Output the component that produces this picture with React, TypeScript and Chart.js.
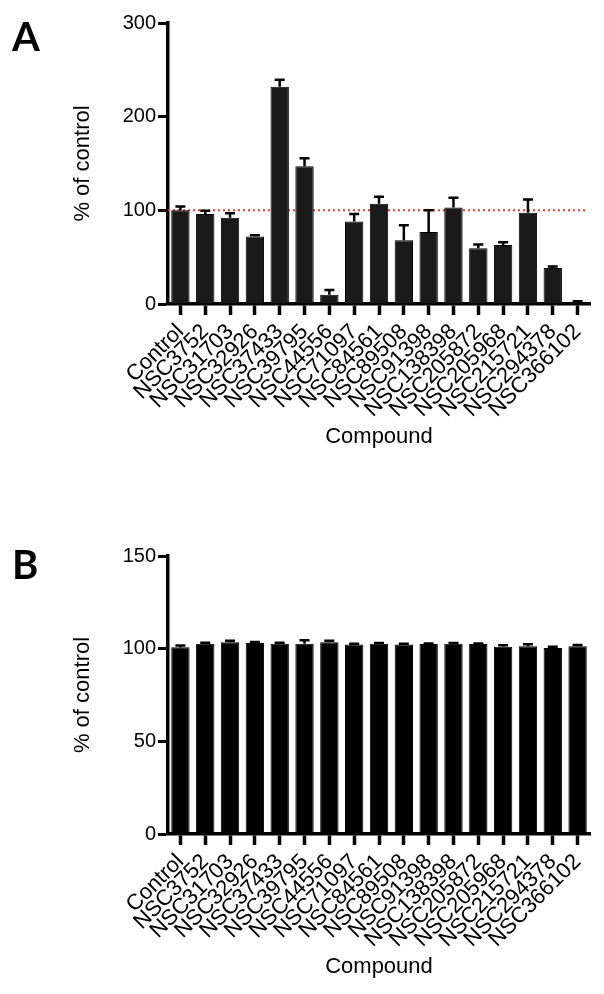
import React, { useEffect, useRef } from "react";
import { Chart, registerables } from "chart.js";

Chart.register(...registerables);

const categories = [
  "Control", "NSC3752", "NSC31703", "NSC32926", "NSC37433", "NSC39795",
  "NSC44556", "NSC71097", "NSC84561", "NSC89508", "NSC91398", "NSC138398",
  "NSC205872", "NSC205968", "NSC215721", "NSC294378", "NSC366102",
];

const valuesA = [100, 96, 92, 72, 232, 147, 10, 88, 107, 68, 77, 103, 59.5, 63, 97.5, 38.5, 2.5];
const errorsA = [4, 3.5, 5, 1.5, 7.5, 8.5, 5, 8, 7.5, 16, 23, 10.5, 4, 3, 14, 1.5, 0.5];

const valuesB = [100.8, 102.7, 103.4, 103.1, 102.7, 102.7, 103.4, 102.3, 102.7, 102.3, 102.5, 102.7, 102.5, 101.1, 101.3, 100.4, 101.3];
const errorsB = [0.9, 0.5, 0.9, 0.5, 0.5, 1.8, 0.9, 0.3, 0.3, 0.3, 0.3, 0.3, 0.3, 0.7, 1.1, 0.7, 0.7];

const yTicksA = [0, 100, 200, 300];
const yTicksB = [0, 50, 100, 150];
const refLineA = 100;

const FONT = "'Liberation Sans', Arial, Helvetica, sans-serif";

const errorBarPlugin = {
  id: "errorBars",
  afterDatasetsDraw(chart: any, _args: any, opts: any) {
    const errs: number[] = opts.errors || [];
    const meta = chart.getDatasetMeta(0);
    const ys = chart.scales.y;
    const data = chart.data.datasets[0].data as number[];
    const ctx = chart.ctx;
    ctx.save();
    ctx.strokeStyle = "#000";
    ctx.lineWidth = opts.lineWidth || 2.5;
    meta.data.forEach((bar: any, i: number) => {
      const top = ys.getPixelForValue(data[i] + errs[i]);
      const cap = opts.cap || 5;
      ctx.beginPath();
      ctx.moveTo(bar.x, bar.y);
      ctx.lineTo(bar.x, top);
      ctx.moveTo(bar.x - cap, top);
      ctx.lineTo(bar.x + cap, top);
      ctx.stroke();
    });
    ctx.restore();
  },
};

const refLinePlugin = {
  id: "refLine",
  beforeDatasetsDraw(chart: any, _args: any, opts: any) {
    if (opts.value == null) return;
    const ys = chart.scales.y;
    const { left, right } = chart.chartArea;
    const y = ys.getPixelForValue(opts.value);
    const ctx = chart.ctx;
    ctx.save();
    ctx.strokeStyle = "#e8392a";
    ctx.lineWidth = 2;
    ctx.setLineDash([2, 3]);
    ctx.beginPath();
    ctx.moveTo(left, y);
    ctx.lineTo(right - 2, y);
    ctx.stroke();
    ctx.restore();
  },
};

type PanelProps = {
  values: number[];
  errors: number[];
  yTicks: number[];
  fill: string;
  refValue: number | null;
  padTop: number;
  padBottom: number;
  xTitlePad: number;
};

function Panel({ values, errors, yTicks, fill, refValue, padTop, padBottom, xTitlePad }: PanelProps) {
  const ref = useRef<HTMLCanvasElement | null>(null);
  useEffect(() => {
    if (!ref.current) return;
    const chart = new Chart(ref.current, {
      type: "bar",
      data: {
        labels: categories,
        datasets: [
          {
            data: values,
            backgroundColor: fill,
            borderColor: "#000",
            borderWidth: 1,
            barPercentage: 0.74,
            categoryPercentage: 1,
          },
        ],
      },
      plugins: [errorBarPlugin, refLinePlugin],
      options: {
        responsive: false,
        animation: false,
        events: [],
        layout: { padding: { left: 0, right: 14, top: padTop, bottom: 0 } },
        plugins: {
          legend: { display: false },
          tooltip: { enabled: false },
          errorBars: { errors, cap: 5, lineWidth: 2.5 },
          refLine: { value: refValue },
        } as any,
        scales: {
          x: {
            offset: true,
            grid: {
              display: true,
              offset: false,
              drawOnChartArea: false,
              drawTicks: true,
              tickLength: 11,
              tickWidth: 3.5,
              color: "#000",
            },
            border: { display: true, width: 3.5, color: "#000" },
            ticks: {
              autoSkip: false,
              minRotation: 45,
              maxRotation: 45,
              padding: 4,
              color: "#000",
              font: { family: FONT, size: 22 },
            },
            title: {
              display: true,
              text: "Compound",
              color: "#000",
              font: { family: FONT, size: 22 },
              padding: { top: 0, bottom: xTitlePad },
            },
            afterFit: (s: any) => {
              s.height = padBottom;
            },
          },
          y: {
            min: yTicks[0],
            max: yTicks[yTicks.length - 1],
            afterBuildTicks: (s: any) => {
              s.ticks = yTicks.map((v) => ({ value: v }));
            },
            grid: {
              display: true,
              drawOnChartArea: false,
              drawTicks: true,
              tickLength: 10,
              tickWidth: 3,
              color: "#000",
            },
            border: { display: true, width: 3.5, color: "#000" },
            ticks: {
              padding: 2,
              color: "#000",
              font: { family: FONT, size: 20 },
            },
            title: {
              display: true,
              text: "% of control",
              color: "#000",
              font: { family: FONT, size: 22 },
              padding: { top: 70, bottom: 0 },
            },
            afterFit: (s: any) => {
              s.width = 168;
            },
          },
        },
      },
    });
    return () => chart.destroy();
  }, []);
  return <canvas ref={ref} width={604} height={497} style={{ display: "block", width: 604, height: 497 }} />;
}

const letterStyle: React.CSSProperties = {
  position: "absolute",
  left: 12,
  fontFamily: "Lato, 'Open Sans', sans-serif",
  fontWeight: 700,
  fontSize: 40,
  lineHeight: "40px",
  color: "#000",
};

export default function App() {
  return (
    <div style={{ position: "absolute", left: 0, top: 0, width: 604, height: 994, background: "#fff" }}>
      <Panel values={valuesA} errors={errorsA} yTicks={yTicksA} fill="#1a1a1a" refValue={refLineA} padTop={23} padBottom={193} xTitlePad={47} />
      <Panel values={valuesB} errors={errorsB} yTicks={yTicksB} fill="#000" refValue={null} padTop={59} padBottom={160} xTitlePad={14} />
      <div style={{ ...letterStyle, top: 16 }}>A</div>
      <div style={{ ...letterStyle, top: 544 }}>B</div>
    </div>
  );
}
